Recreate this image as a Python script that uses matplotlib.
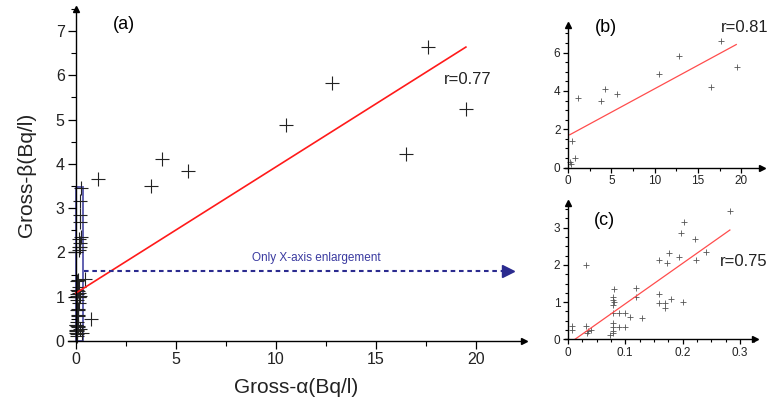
import matplotlib
matplotlib.use('Agg')
import matplotlib.pyplot as plt
from matplotlib.patches import Rectangle
from matplotlib.ticker import MultipleLocator

plt.rcParams['font.family'] = ['Liberation Sans', 'DejaVu Sans']

# samples with gross-alpha below 0.3 Bq/l
alpha_low = [0.008, 0.008, 0.031, 0.031, 0.035, 0.034, 0.040,
             0.081, 0.079, 0.078, 0.080, 0.079, 0.078, 0.090, 0.099, 0.108,
             0.079, 0.079, 0.090, 0.099, 0.079, 0.078, 0.074,
             0.119, 0.119, 0.130, 0.159, 0.159, 0.170, 0.180, 0.200, 0.170,
             0.159, 0.173, 0.176, 0.193, 0.197, 0.202, 0.222, 0.223, 0.241, 0.283]
beta_low = [0.35, 0.24, 2.00, 0.35, 0.23, 0.17, 0.25,
            1.35, 1.15, 1.06, 1.01, 0.92, 0.70, 0.70, 0.72, 0.59,
            0.43, 0.34, 0.34, 0.32, 0.23, 0.16, 0.12,
            1.37, 1.13, 0.57, 1.22, 0.99, 0.99, 1.08, 1.01, 0.85,
            2.13, 2.06, 2.31, 2.22, 2.85, 3.15, 2.69, 2.13, 2.34, 3.46]

# samples shown in the full-range panel
alpha_high = [17.6, 12.8, 19.5, 10.5, 16.5, 4.3, 5.6, 1.1, 3.75, 0.45, 0.75, 0.2, 0.3]
beta_high = [6.63, 5.83, 5.23, 4.88, 4.22, 4.10, 3.83, 3.65, 3.50, 1.40, 0.50, 0.28, 0.18]

# fitted lines: (intercept, slope, x_start, x_end)
fit_a = (1.08, 0.285, 0.0, 19.5)
fit_b = (1.67, 0.245, 0.19, 19.4)
fit_c = (-0.133, 10.87, 0.0122, 0.2826)

r_a, r_b, r_c = '0.77', '0.81', '0.75'

xticks_a = [0, 5, 10, 15, 20]
yticks_a = [0, 1, 2, 3, 4, 5, 6, 7]
xticks_b = [0, 5, 10, 15, 20]
yticks_b = [0, 2, 4, 6]
xticks_c = [0, 0.1, 0.2, 0.3]
xticklabels_c = ['0', '0.1', '0.2', '0.3']
yticks_c = [0, 1, 2, 3]

zoom_box = (0.38, 3.47)  # width, height of the enlarged region in (a)


def style_axes(ax, xlim, ylim, fs, major_len, minor_len):
    ax.set_xlim(*xlim)
    ax.set_ylim(*ylim)
    ax.spines['top'].set_visible(False)
    ax.spines['right'].set_visible(False)
    ax.spines['left'].set_position(('data', 0))
    ax.spines['bottom'].set_position(('data', 0))
    for s in ('left', 'bottom'):
        ax.spines[s].set_linewidth(1.0)
        ax.spines[s].set_color('black')
    ax.tick_params(which='major', direction='out', length=major_len, width=0.9,
                   labelsize=fs, colors='black', labelcolor='#222222', pad=2)
    ax.tick_params(which='minor', direction='out', length=minor_len, width=0.8)
    # arrow heads at the end of the axes
    ax.plot(1, 0, '>', color='black', ms=4, transform=ax.get_yaxis_transform(), clip_on=False)
    ax.plot(0, 1, '^', color='black', ms=4, transform=ax.get_xaxis_transform(), clip_on=False)
    ax.patch.set_visible(False)


def fit_line(ax, fit, **kw):
    b0, b1, x0, x1 = fit
    ax.plot([x0, x1], [b0 + b1 * x0, b0 + b1 * x1], **kw)


fig = plt.figure(figsize=(7.81, 4.04), dpi=100)

# ---- (a) full range ----
ax = fig.add_axes([0.0868, 0.156, 0.584, 0.822])
style_axes(ax, (-0.4, 22.4), (0, 7.5), 11.5, 6, 3.5)
ax.set_xticks(xticks_a)
ax.set_yticks(yticks_a)
ax.xaxis.set_minor_locator(MultipleLocator(2.5))
ax.yaxis.set_minor_locator(MultipleLocator(0.5))
ax.plot(alpha_low + alpha_high, beta_low + beta_high, '+', color='#222222',
        ms=10, mew=0.8, clip_on=False)
fit_line(ax, fit_a, color='#ff1a1a', lw=1.2)
ax.add_patch(Rectangle((0, 0), zoom_box[0], zoom_box[1], fill=False,
                       ec='#5555aa', lw=1.3, clip_on=False))
ax.plot([0.4, 21.4], [1.57, 1.57], color='#2b2b8f', lw=1.5, ls=(0, (2.2, 1.8)))
ax.plot(21.6, 1.57, '>', color='#2b2b8f', ms=8)
ax.text(12.0, 1.88, 'Only X-axis enlargement', color='#3a3aa0', fontsize=8.5,
        ha='center', va='center')
ax.text(2.4, 7.15, '(a)', fontsize=13, ha='center', va='center')
ax.text(19.6, 5.9, 'r=' + r_a, fontsize=12, ha='center', va='center', color='#222222')
ax.set_xlabel('Gross-α(Bq/l)', fontsize=15, labelpad=8, color='#222222')
ax.set_ylabel('Gross-β(Bq/l)', fontsize=15, labelpad=14, color='#222222')

# ---- (b) samples above the zoomed region ----
bx = fig.add_axes([0.723, 0.585, 0.253, 0.353])
style_axes(bx, (-0.4, 22.4), (0, 7.44), 8.5, 3.5, 2.5)
bx.set_xticks(xticks_b)
bx.set_yticks(yticks_b)
bx.xaxis.set_minor_locator(MultipleLocator(2.5))
bx.yaxis.set_minor_locator(MultipleLocator(0.5))
bx.plot(alpha_high, beta_high, '+', color='#555555', ms=5, mew=0.6, clip_on=False)
fit_line(bx, fit_b, color='#ff4d4d', lw=0.9)
bx.text(4.4, 7.3, '(b)', fontsize=13, ha='center', va='center')
bx.text(20.4, 7.3, 'r=' + r_b, fontsize=12, ha='center', va='center', color='#222222')

# ---- (c) enlargement of the low gross-alpha samples ----
cx = fig.add_axes([0.7234, 0.160, 0.243, 0.338])
style_axes(cx, (-0.005, 0.326), (0, 3.67), 8.5, 3.5, 2.5)
cx.set_xticks(xticks_c)
cx.set_xticklabels(xticklabels_c)
cx.set_yticks(yticks_c)
cx.xaxis.set_minor_locator(MultipleLocator(0.025))
cx.yaxis.set_minor_locator(MultipleLocator(0.25))
cx.plot(alpha_low, beta_low, '+', color='#555555', ms=5, mew=0.6, clip_on=False)
fit_line(cx, fit_c, color='#ff4d4d', lw=0.9)
cx.text(0.0645, 3.2, '(c)', fontsize=13, ha='center', va='center')
cx.text(0.306, 2.09, 'r=' + r_c, fontsize=12, ha='center', va='center', color='#222222')

fig.savefig('out.png', dpi=100)
